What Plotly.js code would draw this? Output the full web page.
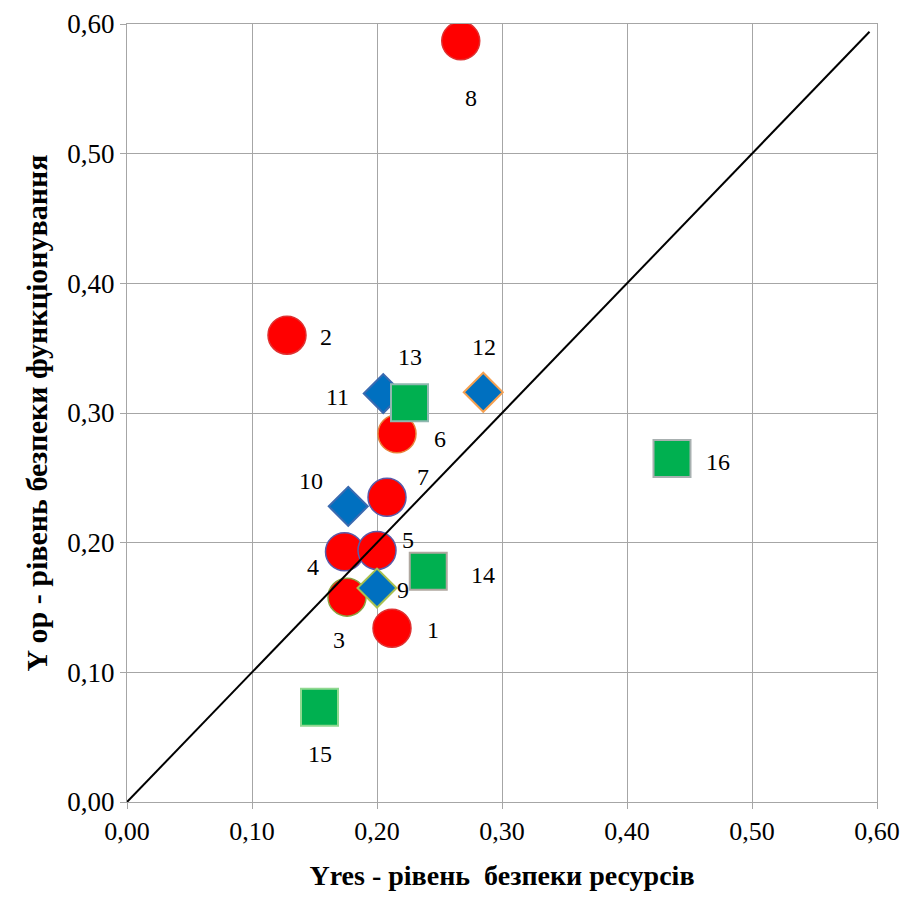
<!DOCTYPE html>
<html>
<head>
<meta charset="utf-8">
<script src="https://cdn.plot.ly/plotly-3.0.1.min.js"></script>
</head>
<body style="margin:0;padding:0">
<div id="plt" style="width:905px;height:906px"></div>
<script>
// Data
const circleIds = ["1","2","3","4","5","6","7","8"];
const circleX = [0.212, 0.128, 0.176, 0.174, 0.200, 0.216, 0.208, 0.267];
const circleY = [0.134, 0.360, 0.158, 0.193, 0.194, 0.284, 0.235, 0.587];

const diamondIds = ["9","10","11","12"];
const diamondX = [0.200, 0.177, 0.205, 0.285];
const diamondY = [0.165, 0.228, 0.315, 0.316];

const squareIds = ["13","14","15","16"];
const squareX = [0.226, 0.241, 0.154, 0.436];
const squareY = [0.308, 0.178, 0.073, 0.265];

const lineX = [0, 0.594];
const lineY = [0, 0.594];

const tickVals = [0, 0.1, 0.2, 0.3, 0.4, 0.5, 0.6];
const tickText = ["0,00","0,10","0,20","0,30","0,40","0,50","0,60"];

// Styles
const circleLine = ["#E03030","#E03030","#8AA040","#5A5AA8","#5A5AA8","#E8803A","#5A5AA8","#E03030"];
const diamondLine = ["#A8C050","#3A6AB0","#3A6AB0","#F5A050"];
const squareLine = ["#90B8B0","#B0A8A0","#90D890","#A8B0B0"];

// label offsets [xshift, yshift] in px
const labelOffsets = {
  "1":[41,-2],"2":[39,-2],"3":[-8,-43],"4":[-32,-15],"5":[31,10],"6":[43,-5],
  "7":[36,20],"8":[10,-57],"9":[26,-2],"10":[-37,25],"11":[-46,-3],"12":[1,45],
  "13":[0,46],"14":[55,-4],"15":[0,-47],"16":[46,-4]
};

const FONT = "Liberation Serif";

const traces = [
  {x: circleX, y: circleY, mode: "markers", type: "scatter",
   marker: {symbol: "circle", size: 38, color: "#FF0000", line: {color: circleLine, width: 1.5}}},
  {x: diamondX, y: diamondY, mode: "markers", type: "scatter",
   marker: {symbol: "diamond", size: 30, color: "#0070C0", line: {color: diamondLine, width: 2}}},
  {x: squareX, y: squareY, mode: "markers", type: "scatter",
   marker: {symbol: "square", size: 37, color: "#00B050", line: {color: squareLine, width: 2}}},
  {x: lineX, y: lineY, mode: "lines", type: "scatter",
   line: {color: "#000000", width: 2}}
];

const annotations = [];
function addLabels(ids, xs, ys) {
  ids.forEach((id, i) => {
    annotations.push({x: xs[i], y: ys[i], text: id, showarrow: false,
      xshift: labelOffsets[id][0], yshift: labelOffsets[id][1],
      font: {family: FONT, size: 24}});
  });
}
addLabels(circleIds, circleX, circleY);
addLabels(diamondIds, diamondX, diamondY);
addLabels(squareIds, squareX, squareY);

const axisCommon = {
  range: [0, 0.6], tickvals: tickVals, ticktext: tickText,
  showgrid: true, gridcolor: "#A6A6A6", gridwidth: 1,
  showline: true, linecolor: "#A6A6A6", linewidth: 1, mirror: true,
  ticks: "outside", ticklen: 6, tickcolor: "#A6A6A6",
  zeroline: false
};

const layout = {
  width: 905, height: 906,
  margin: {l: 127, r: 28, t: 24, b: 104},
  paper_bgcolor: "#ffffff", plot_bgcolor: "#ffffff",
  showlegend: false,
  font: {family: FONT, color: "#000000"},
  xaxis: Object.assign({}, axisCommon, {
    tickfont: {family: FONT, size: 26},
    title: {text: "<b>Yres - рівень  безпеки ресурсів</b>", font: {family: FONT, size: 28}, standoff: 20}
  }),
  yaxis: Object.assign({}, axisCommon, {
    tickfont: {family: FONT, size: 27},
    title: {text: "<b>Y op - рівень безпеки функціонування</b>", font: {family: FONT, size: 30}, standoff: 10}
  }),
  annotations: annotations
};

Plotly.newPlot("plt", traces, layout, {displayModeBar: false});
</script>
</body>
</html>
